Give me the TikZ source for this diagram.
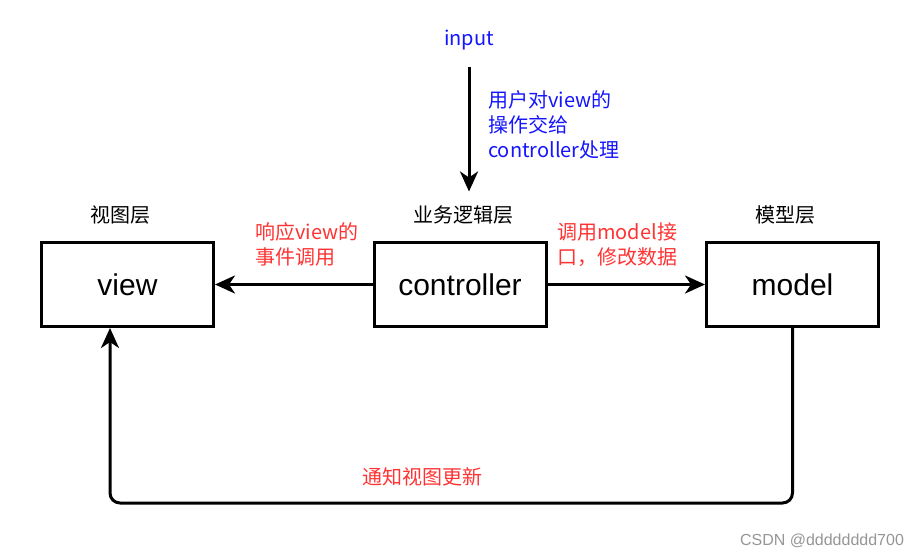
\documentclass[tikz,border=0pt]{standalone}
\usepackage{fontspec}
\setmainfont{Liberation Sans}
\newfontfamily\cjk{Noto Sans CJK SC}
\usetikzlibrary{arrows.meta}
\definecolor{noteblue}{RGB}{20,20,255}
\definecolor{notered}{RGB}{255,51,51}
\definecolor{markgray}{RGB}{150,150,150}

\begin{document}
\begin{tikzpicture}[x=1pt, y=-1pt,
    layerbox/.style={draw, line width=3pt, minimum width=172pt, minimum height=84pt,
        inner sep=0pt, font=\fontsize{30}{34}\selectfont},
    layername/.style={inner sep=0pt, font=\cjk\fontsize{20}{24}\selectfont},
    bluenote/.style={text=noteblue, align=left, anchor=west, inner sep=0pt,
        font=\cjk\fontsize{20}{25}\selectfont},
    rednote/.style={text=notered, align=left, anchor=west, inner sep=0pt,
        font=\cjk\fontsize{20}{25}\selectfont},
    flow/.style={line width=3pt, -{Stealth[length=20pt,width=18pt,inset=6pt]}}]
\useasboundingbox (0,0) rectangle (920,558);
% the three layers
\node[layerbox] (view) at (127.5, 284.5){view};
\node[layerbox] (controller) at (460, 284.5){controller};
\node[layerbox] (model) at (792.5, 284.5){model};
\node[layername] (viewname) at (120, 215){视图层};
\node[layername] (controllername) at (463, 215){业务逻辑层};
\node[layername] (modelname) at (785, 215){模型层};
% input from the user
\node[layername, text=noteblue] (input) at (469, 40){input};
\node[bluenote] (inputnote) at (488, 125){用户对view的\\操作交给\\controller处理};
\draw[flow, shorten <=17pt, shorten >=14pt] (input) -- (input |- controllername.north);
% calls between the layers
\draw[flow] (controller.west) -- (view.east);
\node[rednote] (viewnote) at (255, 244.5){响应view的\\事件调用};
\draw[flow] (controller.east) -- (model.west);
\node[rednote] (modelnote) at (557, 244.5){调用model接\\口，修改数据};
% model notifies the view
\draw[flow, rounded corners=10pt] (model.south) -- ++(0, 175) -| ([xshift=-17.5pt]view.south);
\node[rednote, anchor=center] (updatenote) at (422, 477){通知视图更新};
\node[text=markgray, inner sep=0pt, font=\fontsize{16}{18}\selectfont] (mark) at (822, 541){CSDN @dddddddd700};
\end{tikzpicture}
\end{document}
